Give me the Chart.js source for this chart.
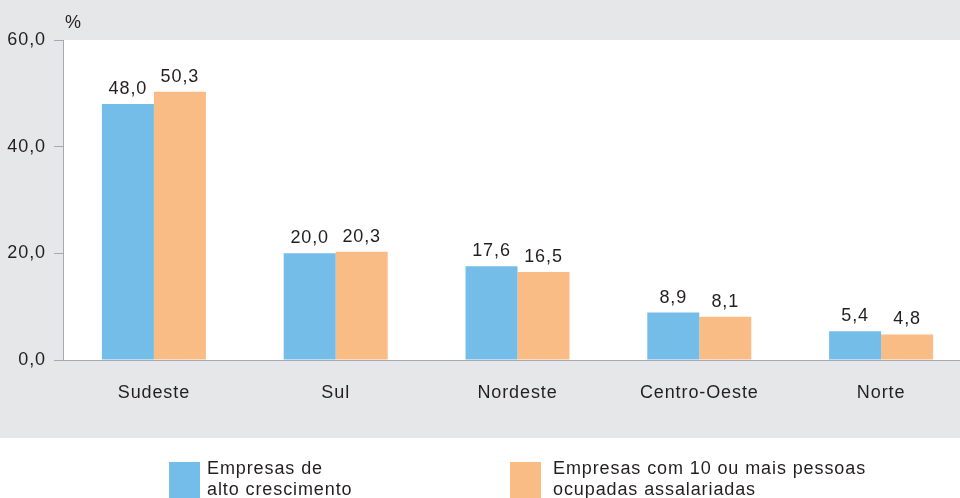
<!DOCTYPE html>
<html>
<head>
<meta charset="utf-8">
<script src="https://cdn.jsdelivr.net/npm/chart.js@4"></script>
<style>
  html, body { margin: 0; padding: 0; background: #fff; overflow: hidden; }
  #wrap { width: 960px; height: 498px; overflow: hidden; }
</style>
</head>
<body>
<div id="wrap"><canvas id="regChart" width="975" height="498"></canvas></div>
<script>
const regioes = ['Sudeste', 'Sul', 'Nordeste', 'Centro-Oeste', 'Norte'];
const altoCrescimento = [48.0, 20.0, 17.6, 8.9, 5.4];
const dezOuMais = [50.3, 20.3, 16.5, 8.1, 4.8];
const yTicks = [0, 20, 40, 60];
const legendLabels = [
  ['Empresas de', 'alto crescimento'],
  ['Empresas com 10 ou mais pessoas', 'ocupadas assalariadas']
];

const FONT = '"Liberation Sans", Arial, sans-serif';
const TXT = '#231f20';
const GREY_BG = '#e6e7e9';
const AXIS = '#a7a9ac';
const SPACING = '0.9px';
const fmt = v => v.toFixed(1).replace('.', ',');

// fundo cinza, area do grafico branca, legenda e rotulos
const decor = {
  id: 'decor',
  beforeDraw(chart) {
    const { ctx, chartArea: a } = chart;
    ctx.letterSpacing = SPACING; // fica valendo para os ticks tambem
    ctx.save();
    ctx.fillStyle = '#fff';
    ctx.fillRect(0, 0, chart.width, chart.height);
    ctx.fillStyle = GREY_BG;
    ctx.fillRect(0, 0, chart.width, 438);
    ctx.fillStyle = '#fff';
    ctx.fillRect(a.left, a.top, a.right - a.left, a.bottom - a.top);
    ctx.restore();
  },
  afterDatasetsDraw(chart) {
    const { ctx } = chart;
    ctx.save();
    ctx.letterSpacing = SPACING;
    ctx.font = '18px ' + FONT;
    ctx.fillStyle = TXT;
    ctx.textAlign = 'center';
    ctx.textBaseline = 'alphabetic';
    chart.data.datasets.forEach((ds, i) => {
      chart.getDatasetMeta(i).data.forEach((bar, j) => {
        ctx.fillText(fmt(ds.data[j]), bar.x, bar.y - 10);
      });
    });
    ctx.textAlign = 'left';
    ctx.textBaseline = 'middle';
    ctx.fillText('%', 65, 23);
    // legenda
    const pos = [[169, 207], [510, 553]];
    chart.data.datasets.forEach((ds, i) => {
      ctx.fillStyle = ds.backgroundColor;
      ctx.fillRect(pos[i][0], 462, 31, 40);
      ctx.fillStyle = TXT;
      legendLabels[i].forEach((line, k) => {
        ctx.fillText(line, pos[i][1], 469 + k * 21);
      });
    });
    ctx.restore();
  }
};

new Chart(document.getElementById('regChart'), {
  type: 'bar',
  data: {
    labels: regioes,
    datasets: [
      { label: 'Empresas de alto crescimento', data: altoCrescimento, backgroundColor: '#74bde8' },
      { label: 'Empresas com 10 ou mais pessoas ocupadas assalariadas', data: dezOuMais, backgroundColor: '#f9bc85' }
    ]
  },
  options: {
    responsive: false,
    animation: false,
    layout: { padding: { top: 40, right: 3, bottom: 60, left: 0 } },
    datasets: { bar: { categoryPercentage: 0.572, barPercentage: 1.0 } },
    plugins: { legend: { display: false }, tooltip: { enabled: false } },
    scales: {
      x: {
        grid: { display: false, drawTicks: false },
        border: { display: true, color: AXIS, width: 1 },
        ticks: { color: TXT, font: { family: FONT, size: 18 }, padding: 22 },
        afterFit(s) { s.height = 78; }
      },
      y: {
        min: 0, max: 60,
        afterBuildTicks(s) { s.ticks = yTicks.map(v => ({ value: v })); },
        grid: { drawOnChartArea: false, color: AXIS, tickLength: 9 },
        border: { display: true, color: AXIS, width: 1 },
        ticks: { color: TXT, font: { family: FONT, size: 18 }, padding: 8, callback: v => fmt(v) },
        afterFit(s) { s.width = 63; }
      }
    }
  },
  plugins: [decor]
});
</script>
</body>
</html>
